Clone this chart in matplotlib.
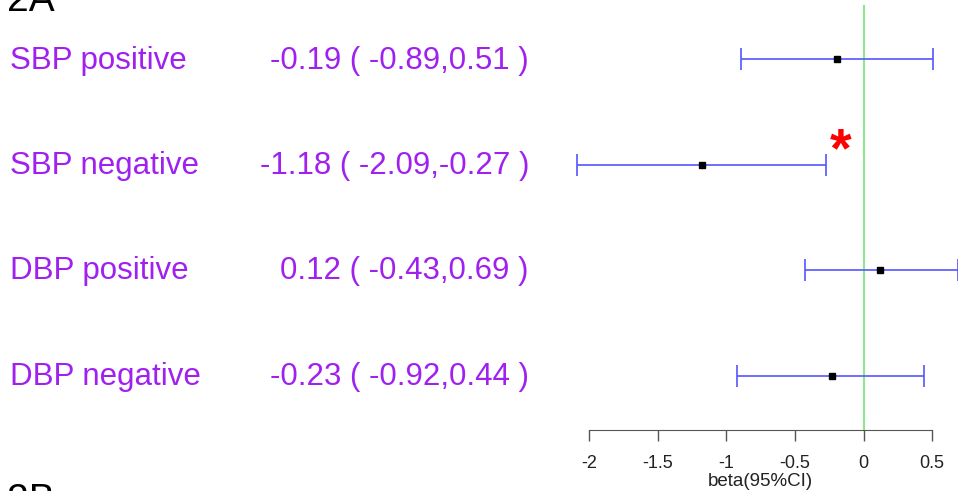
import matplotlib
matplotlib.use("Agg")
import matplotlib.pyplot as plt
import numpy as np

plt.rcParams['font.family'] = ['Liberation Sans', 'DejaVu Sans']

# Forest plot data: blood pressure subgroups, effect estimate with 95% CI
labels = ["SBP positive", "SBP negative", "DBP positive", "DBP negative"]
beta = [-0.19, -1.18, 0.12, -0.23]
ci_low = [-0.89, -2.09, -0.43, -0.92]
ci_high = [0.51, -0.27, 0.69, 0.44]
significant = [False, True, False, False]
tick_values = [-2, -1.5, -1, -0.5, 0, 0.5]
tick_labels = ["-2", "-1.5", "-1", "-0.5", "0", "0.5"]

W, H = 958, 491
fig = plt.figure(figsize=(W / 100, H / 100), dpi=100)
ax = fig.add_axes([0, 0, 1, 1])

# pixel layout -> data scales
px_zero, px_per_unit = 863.5, 137.2
row_bottom_px, row_step_px = 375.7, 105.4
ax.set_xlim(-px_zero / px_per_unit, (W - px_zero) / px_per_unit)
ax.set_ylim(1 - (H - row_bottom_px) / row_step_px, 1 + row_bottom_px / row_step_px)
axis_y = 1 - (430 - row_bottom_px) / row_step_px
top_y = 1 + (row_bottom_px - 6) / row_step_px

n = len(labels)
ypos = np.arange(n, 0, -1)
b = np.array(beta)
lo = np.array(ci_low)
hi = np.array(ci_high)

purple = "#A020F0"
ebar_col = "#5555ff"

# reference line at zero
ax.plot([0, 0], [axis_y, top_y], color="#8be88b", lw=1.5, zorder=1)

ax.errorbar(b, ypos, xerr=[b - lo, hi - b], fmt="none", ecolor=ebar_col,
            elinewidth=1.2, capsize=8, capthick=1.2, zorder=2)
ax.plot(b, ypos, "s", color="black", markersize=5, zorder=3)

ytr = ax.get_yaxis_transform()
row_font = 22.5
for y, lab, bb, l, h, sig in zip(ypos, labels, beta, ci_low, ci_high, significant):
    ax.text(10 / W, y - 0.01, lab, transform=ytr, color=purple, fontsize=row_font,
            ha="left", va="center")
    ax.text(529 / W, y - 0.01, f"{bb:.2f} ( {l:.2f},{h:.2f} )", transform=ytr,
            color=purple, fontsize=row_font, ha="right", va="center")
    if sig:
        ax.text(h + 0.1, y + 0.12, "*", color="red", fontsize=40,
                fontweight="bold", ha="center", va="center")

# R-style bottom axis spanning only the tick range
for s in ["top", "right", "left"]:
    ax.spines[s].set_visible(False)
ax.spines["bottom"].set_position(("data", axis_y))
ax.spines["bottom"].set_bounds(tick_values[0], tick_values[-1])
ax.spines["bottom"].set_color("#555555")
ax.set_xticks(tick_values)
ax.set_xticklabels(tick_labels)
ax.tick_params(axis="x", length=8, width=1, color="#555555", labelsize=13,
               labelcolor="#222222", pad=10)
ax.set_yticks([])
ax.text(np.mean([tick_values[0], tick_values[-1]]),
        1 - (481 - row_bottom_px) / row_step_px, "beta(95%CI)",
        fontsize=13.5, color="#222222", ha="center", va="center")

# panel tags
fig.text(7 / W, 1 - 11 / H, "2A", fontsize=28, ha="left", va="baseline")
fig.text(7 / W, 1 - 511 / H, "2B", fontsize=28, ha="left", va="baseline")

fig.savefig("out.png", dpi=100)
